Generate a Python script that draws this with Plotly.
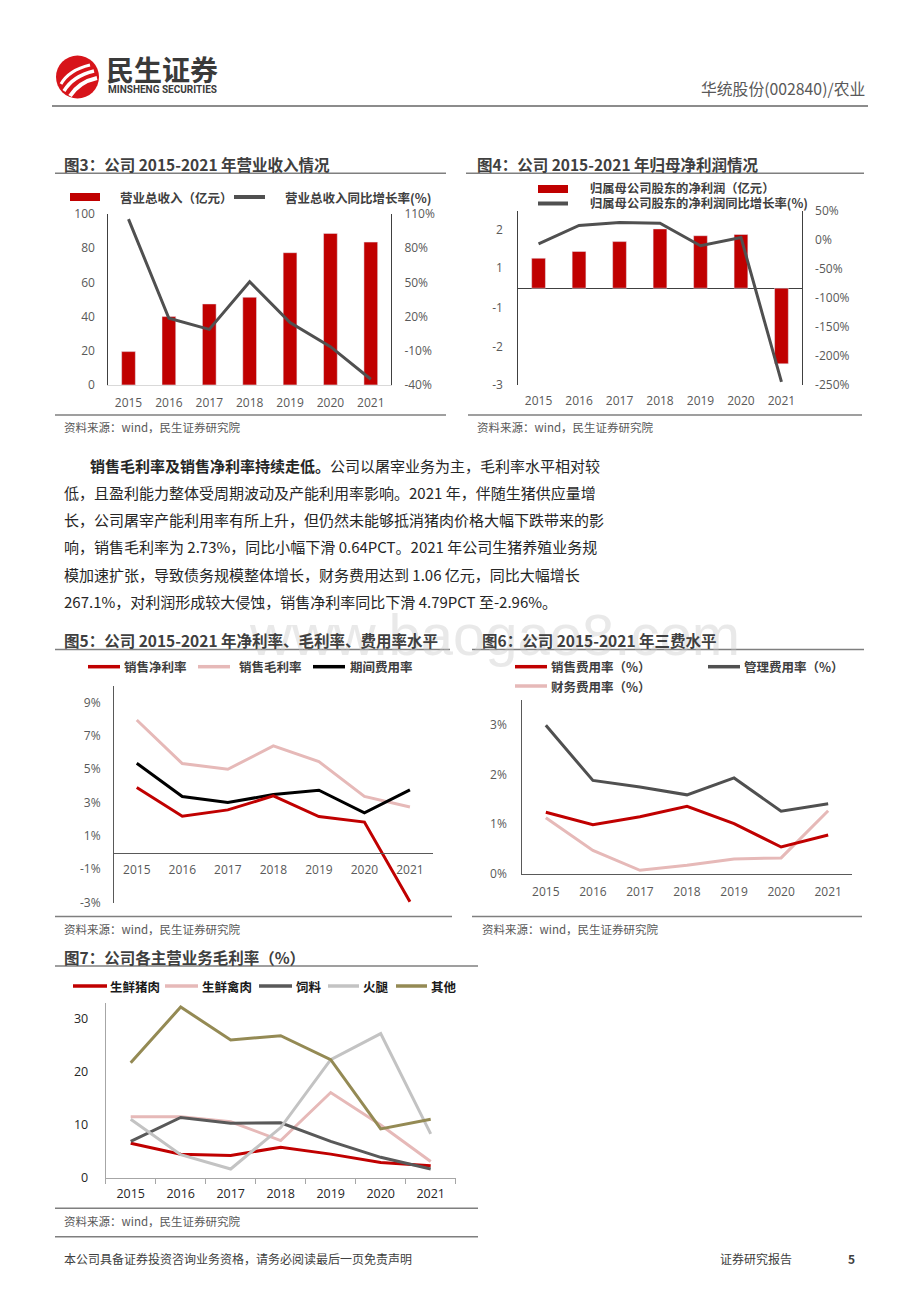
import plotly.graph_objects as go

# the page body has an 8px margin: the figure is sized to fill the rest of the window
OFF = 8
W, H = 920 - OFF, 1302 - OFF
def X(px): return (px - OFF) / W
def Y(py): return 1 - (py - OFF) / H

# ---------------- data ----------------
years = ["2015", "2016", "2017", "2018", "2019", "2020", "2021"]
revenue = [19.5, 40.0, 47.4, 51.3, 77.4, 88.7, 83.6]              # 亿元
revenue_yoy = [105.6, 18.5, 8.8, 50.6, 14.7, -6.4, -35.0]          # %
net_profit = [0.97, 1.19, 1.51, 1.92, 1.70, 1.74, -2.45]           # 亿元
net_profit_yoy = [-6.9, 24.7, 29.8, 28.7, -10.3, 4.0, -244.8]      # %
net_margin = [3.90, 2.18, 2.56, 3.40, 2.16, 1.83, -2.96]
gross_margin = [7.96, 5.34, 5.00, 6.40, 5.46, 3.37, 2.73]
expense_ratio = [5.36, 3.36, 3.00, 3.48, 3.74, 2.38, 3.76]
selling_exp = [1.24, 0.99, 1.15, 1.36, 1.01, 0.54, 0.78]
admin_exp = [2.99, 1.88, 1.75, 1.59, 1.93, 1.26, 1.41]
finance_exp = [1.13, 0.47, 0.07, 0.17, 0.30, 0.32, 1.27]
pork = [6.56, 4.5, 4.25, 5.8, 4.5, 2.94, 2.3]
poultry = [11.56, 11.56, 10.6, 7.06, 16.1, 10.0, 3.1]
feed = [6.9, 11.4, 10.3, 10.4, 6.9, 3.9, 1.7]
ham = [11.06, 4.4, 1.7, 9.5, 22.3, 27.2, 8.3]
other = [21.7, 32.2, 26.0, 26.8, 22.3, 9.25, 11.06]

fig3_left_ticks = [0, 20, 40, 60, 80, 100]
fig3_right_ticks = [-40, -10, 20, 50, 80, 110]
fig4_left_tickvals = [-3.13, -1.89, -0.65, 0.65, 1.89]
fig4_left_ticktext = ["-3", "-2", "-1", "1", "2"]
fig4_right_ticks = [-250, -200, -150, -100, -50, 0, 50]
fig5_ticks = [-3, -1, 1, 3, 5, 7, 9]
fig6_ticks = [0, 1, 2, 3]
fig7_ticks = [0, 10, 20, 30]

paragraph = [
    "<b>销售毛利率及销售净利率持续走低。</b>公司以屠宰业务为主，毛利率水平相对较",
    "低，且盈利能力整体受周期波动及产能利用率影响。2021 年，伴随生猪供应量增",
    "长，公司屠宰产能利用率有所上升，但仍然未能够抵消猪肉价格大幅下跌带来的影",
    "响，销售毛利率为 2.73%，同比小幅下滑 0.64PCT。2021 年公司生猪养殖业务规",
    "模加速扩张，导致债务规模整体增长，财务费用达到 1.06 亿元，同比大幅增长",
    "267.1%，对利润形成较大侵蚀，销售净利率同比下滑 4.79PCT 至-2.96%。",
]

# ---------------- styles ----------------
RED = "#c00000"
PINK = "#e6b9b8"
DGREY = "#505050"
BLACK = "#000000"
LGREY = "#c3c3c3"
OLIVE = "#948a54"
CJK = "Noto Sans CJK SC"
NUM = "Open Sans, Noto Sans CJK SC"
tickfont = dict(family=NUM, size=12, color="#595959")
XR = [-0.5, 6.5]

fig = go.Figure()

# Fig 3
fig.add_trace(go.Bar(x=years, y=revenue, marker_color=RED, width=0.34,
                     xaxis="x", yaxis="y", showlegend=False))
fig.add_trace(go.Scatter(x=years, y=revenue_yoy, mode="lines",
                         line=dict(color=DGREY, width=3), xaxis="x", yaxis="y2", showlegend=False))
# Fig 4
fig.add_trace(go.Bar(x=years, y=net_profit, marker_color=RED, width=0.34,
                     xaxis="x2", yaxis="y3", showlegend=False))
fig.add_trace(go.Scatter(x=years, y=net_profit_yoy, mode="lines",
                         line=dict(color=DGREY, width=3), xaxis="x2", yaxis="y4", showlegend=False))
# Fig 5
for series, col in [(gross_margin, PINK), (expense_ratio, BLACK), (net_margin, RED)]:
    fig.add_trace(go.Scatter(x=years, y=series, mode="lines", line=dict(color=col, width=3),
                             xaxis="x3", yaxis="y5", showlegend=False))
# Fig 6
for series, col in [(admin_exp, DGREY), (finance_exp, PINK), (selling_exp, RED)]:
    fig.add_trace(go.Scatter(x=years, y=series, mode="lines", line=dict(color=col, width=3),
                             xaxis="x4", yaxis="y6", showlegend=False))
# Fig 7
for series, col in [(pork, RED), (poultry, PINK), (feed, "#595959"), (ham, LGREY), (other, OLIVE)]:
    fig.add_trace(go.Scatter(x=years, y=series, mode="lines", line=dict(color=col, width=3),
                             xaxis="x5", yaxis="y7", showlegend=False))

def pct(v):
    return [f"{t}%" for t in v]

base_x = dict(type="category", showgrid=False, zeroline=False, ticks="", tickfont=tickfont,
              automargin=False, range=XR, fixedrange=True)
base_y = dict(showgrid=False, zeroline=False, ticks="", tickfont=tickfont, showline=True,
              linewidth=1, automargin=False, fixedrange=True)

fig.update_layout(
    width=W, height=H, margin=dict(l=0, r=0, t=0, b=0, autoexpand=False),
    paper_bgcolor="white", plot_bgcolor="rgba(0,0,0,0)",
    hovermode=False,
    # fig3
    xaxis=dict(base_x, domain=[X(108.3), X(391)], anchor="y", showline=True,
               linecolor="#d9d9d9", ticklabelstandoff=7),
    yaxis=dict(base_y, domain=[Y(385), Y(214)], anchor="x", range=[-0.05, 100.05],
               tickvals=fig3_left_ticks, linecolor="#404040", ticklabelstandoff=10),
    yaxis2=dict(base_y, overlaying="y", side="right", anchor="x", range=[-40.05, 110.05],
                tickvals=fig3_right_ticks, ticktext=pct(fig3_right_ticks),
                linecolor="#404040", ticklabelstandoff=10),
    # fig4
    xaxis2=dict(base_x, domain=[X(518.3), X(801.7)], anchor="y3", showline=False,
                ticklabelstandoff=7),
    yaxis3=dict(base_y, domain=[Y(385), Y(210.7)], anchor="x2", range=[-3.135, 2.51],
                tickvals=fig4_left_tickvals, ticktext=fig4_left_ticktext,
                linecolor="#404040", zeroline=True, zerolinecolor="#404040", zerolinewidth=1,
                ticklabelstandoff=12),
    yaxis4=dict(base_y, overlaying="y3", side="right", anchor="x2", range=[-250.1, 50.1],
                tickvals=fig4_right_ticks, ticktext=pct(fig4_right_ticks),
                linecolor="#404040", ticklabelstandoff=10),
    # fig5
    xaxis3=dict(base_x, domain=[X(114), X(432.7)], anchor="free", position=Y(853.3),
                showline=True, linecolor="#595959", ticklabelstandoff=5),
    yaxis5=dict(base_y, domain=[Y(903), Y(686)], anchor="x3", range=[-3.03, 10],
                tickvals=fig5_ticks, ticktext=pct(fig5_ticks), linecolor="#595959",
                ticklabelstandoff=10),
    # fig6
    xaxis4=dict(base_x, domain=[X(522.3), X(851.7)], anchor="y6", showline=True,
                linecolor="#595959", ticklabelstandoff=6),
    yaxis6=dict(base_y, domain=[Y(874.3), Y(700)], anchor="x4", range=[-0.01, 3.5],
                tickvals=fig6_ticks, ticktext=pct(fig6_ticks), linecolor="#595959",
                ticklabelstandoff=12),
    # fig7
    xaxis5=dict(base_x, domain=[X(105.7), X(455.7)], anchor="y7", showline=True,
                linecolor="#a6a6a6", ticks="outside", tickson="boundaries", ticklen=5,
                tickcolor="#a6a6a6", tickfont=dict(family=NUM, size=12.5, color="#262626"),
                ticklabelstandoff=4),
    yaxis7=dict(base_y, domain=[Y(1178.3), Y(1003.3)], anchor="x5", range=[-0.05, 32.9],
                tickvals=fig7_ticks, linecolor="#a6a6a6",
                tickfont=dict(family=NUM, size=12.5, color="#262626"), ticklabelstandoff=14),
)

shapes = []
ann = []

def hline(x0, x1, y, color="#7f7f7f", w=1.5):
    shapes.append(dict(type="line", xref="paper", yref="paper", x0=X(x0), x1=X(x1),
                       y0=Y(y), y1=Y(y), line=dict(color=color, width=w)))

def text(x, y, s, size=12, color="#404040", family=CJK, anchor="left", bold=False):
    ann.append(dict(xref="paper", yref="paper", x=X(x), y=Y(y), text=(f"<b>{s}</b>" if bold else s),
                    showarrow=False, xanchor=anchor, yanchor="middle",
                    font=dict(family=family, size=size, color=color)))

def leg_line(x0, x1, y, color, w=3.5):
    shapes.append(dict(type="line", xref="paper", yref="paper", x0=X(x0), x1=X(x1),
                       y0=Y(y), y1=Y(y), line=dict(color=color, width=w)))

def leg_rect(x0, x1, y0, y1, color):
    shapes.append(dict(type="rect", xref="paper", yref="paper", x0=X(x0), x1=X(x1),
                       y0=Y(y1), y1=Y(y0), fillcolor=color, line=dict(width=0)))

# watermark (drawn first)
ann.append(dict(xref="paper", yref="paper", x=X(742), y=Y(634), text="www.baogao8.com",
                showarrow=False, xanchor="right", yanchor="middle",
                font=dict(family="Liberation Sans", size=58, color="rgba(200,200,200,0.4)")))

# ---- header ----
shapes.append(dict(type="circle", xref="paper", yref="paper", x0=X(56), x1=X(99), y0=Y(98.5),
                   y1=Y(55.5), fillcolor="#d7141a", line=dict(width=0)))
def pth(points):
    (a, b), (c, d), (e, f) = points
    return f"M {X(a)} {Y(b)} Q {X(c)} {Y(d)} {X(e)} {Y(f)}"
for pts, w in [([(61, 84), (69, 70), (90, 65)], 3.0),
               ([(64, 91), (73, 76), (94, 71)], 3.5),
               ([(70, 96), (79, 82), (97, 78)], 4.0)]:
    shapes.append(dict(type="path", xref="paper", yref="paper", path=pth(pts),
                       line=dict(color="white", width=w)))
text(104, 69, "民生证券", size=28, color="#3a3a3a", bold=True)
text(106, 90, "MINSHENG SECURITIES", size=10, color="#3a3a3a", family="Roboto", bold=True)
text(867, 88, "华统股份(002840)/农业", size=15.8, color="#595959", anchor="right")
hline(52, 868, 106, color="#8c8c8c", w=2)

# ---- fig3 ----
text(62, 164, "图3：公司 2015-2021 年营业收入情况", size=15.5, color="#404040", bold=True)
hline(55, 446, 173.3)
leg_rect(70, 100, 193, 201, RED)
text(118, 197, "营业总收入（亿元）", size=12.5, bold=True)
leg_line(234, 265, 197, DGREY, 4)
text(283, 197, "营业总收入同比增长率(%)", size=12.5, bold=True)
hline(55, 446, 415)
text(62, 427, "资料来源：wind，民生证券研究院", size=11.5, color="#595959")

# ---- fig4 ----
text(475, 164, "图4：公司 2015-2021 年归母净利润情况", size=15.5, color="#404040", bold=True)
hline(466, 864, 173.3)
leg_rect(538, 568, 185, 193, RED)
text(588, 188.5, "归属母公司股东的净利润（亿元）", size=12.3, bold=True)
leg_line(538, 568, 203.5, DGREY, 4)
text(588, 203.5, "归属母公司股东的净利润同比增长率(%)", size=12.3, bold=True)
hline(468, 862, 415)
text(475, 427, "资料来源：wind，民生证券研究院", size=11.5, color="#595959")

# ---- paragraph ----
for i, line in enumerate(paragraph):
    x0 = 88 if i == 0 else 62
    text(x0, 465 + i * 27.3, line, size=15.0, color="#262626")

# ---- fig5 ----
text(62, 640, "图5：公司 2015-2021 年净利率、毛利率、费用率水平", size=15.5, color="#404040", bold=True)
hline(55, 450, 649.5)
leg_line(88, 120, 666.7, RED)
text(122, 666.7, "销售净利率", size=12.5, bold=True)
leg_line(198, 230, 666.7, PINK)
text(237, 666.7, "销售毛利率", size=12.5, bold=True)
leg_line(313, 345, 666.7, BLACK)
text(348, 666.7, "期间费用率", size=12.5, bold=True)
hline(55, 452, 916.5)
text(62, 928.5, "资料来源：wind，民生证券研究院", size=11.5, color="#595959")

# ---- fig6 ----
text(480, 640, "图6：公司 2015-2021 年三费水平", size=15.5, color="#404040", bold=True)
hline(472, 864, 649.5)
leg_line(515, 547, 666.7, RED)
text(549, 666.7, "销售费用率（%）", size=12.5, bold=True)
leg_line(708, 740, 666.7, DGREY)
text(742, 666.7, "管理费用率（%）", size=12.5, bold=True)
leg_line(515, 547, 686, PINK)
text(549, 686, "财务费用率（%）", size=12.5, bold=True)
hline(472, 862, 916.5)
text(480, 929, "资料来源：wind，民生证券研究院", size=11.5, color="#595959")

# ---- fig7 ----
text(62, 957, "图7：公司各主营业务毛利率（%）", size=15.5, color="#404040", bold=True)
hline(55, 478, 966)
for x0, x1, col, lab, tx in [(73, 107, RED, "生鲜猪肉", 108),
                             (165, 198, PINK, "生鲜禽肉", 200),
                             (259, 292, "#595959", "饲料", 293.5),
                             (328, 359, LGREY, "火腿", 361),
                             (396, 427, OLIVE, "其他", 428.5)]:
    leg_line(x0, x1, 986, col)
    text(tx, 986, lab, size=12.5, color="#1a1a1a", bold=True)
hline(55, 478, 1208.3)
text(62, 1221, "资料来源：wind，民生证券研究院", size=11.5, color="#595959")
hline(55, 478, 1236.7)

# ---- footer ----
text(62, 1258, "本公司具备证券投资咨询业务资格，请务必阅读最后一页免责声明", size=12, color="#404040")
text(718, 1258, "证券研究报告", size=12, color="#404040")
text(857, 1258, "5", size=12, color="#404040", bold=True, anchor="right")

fig.update_layout(shapes=shapes, annotations=ann)
fig.write_html("out.html")
